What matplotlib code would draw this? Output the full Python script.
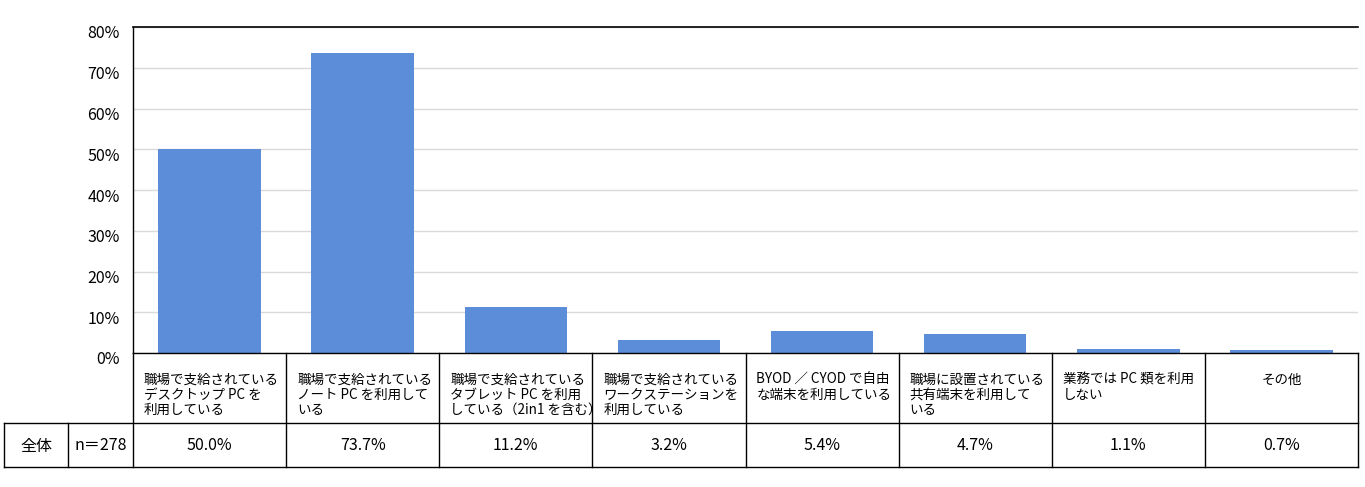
import matplotlib.pyplot as plt
import matplotlib.transforms as mtransforms
import numpy as np

plt.rcParams['font.family'] = ['Noto Sans CJK JP', 'DejaVu Sans']

# Data
categories = [
    "職場で支給されている\nデスクトップ PC を\n利用している",
    "職場で支給されている\nノート PC を利用して\nいる",
    "職場で支給されている\nタブレット PC を利用\nしている（2in1 を含む）",
    "職場で支給されている\nワークステーションを\n利用している",
    "BYOD ／ CYOD で自由\nな端末を利用している",
    "職場に設置されている\n共有端末を利用して\nいる",
    "業務では PC 類を利用\nしない",
    "その他",
]
values = [50.0, 73.7, 11.2, 3.2, 5.4, 4.7, 1.1, 0.7]
yticks = list(range(0, 81, 10))
row_label = "全体"
n_label = "n＝278"

W, H = 1365, 487
fig = plt.figure(figsize=(W / 100, H / 100), dpi=100)

# pixel geometry
x_left, x_right = 133, 1358
y_top, y_zero = 27, 353
y_row1, y_row2 = 423, 467
x_tab0, x_tab1 = 4, 68

ax = fig.add_axes([x_left / W, 1 - y_zero / H, (x_right - x_left) / W, (y_zero - y_top) / H])
x = np.arange(len(values))
ax.bar(x, values, width=0.67, color="#5B8DD9", zorder=2)
ax.set_xlim(-0.5, len(values) - 0.5)
ax.set_ylim(0, 80)
ax.set_yticks(yticks)
ax.set_yticklabels([])
ax.tick_params(axis="y", length=0)
ax.set_xticks([])
ax.grid(axis="y", color="#D9D9D9", linewidth=1, zorder=0)
for s in ["right", "bottom"]:
    ax.spines[s].set_visible(False)
ax.spines["left"].set_linewidth(1)
ax.spines["top"].set_linewidth(1.2)

# y labels sit a little below their gridlines
lab_tr = mtransforms.offset_copy(ax.get_yaxis_transform(), fig=fig, x=-13, y=-7, units="dots")
for v in yticks:
    ax.text(0, v, f"{v}%", transform=lab_tr, ha="right", va="center", fontsize=11.5)

# table drawn on a full-figure overlay in pixel units
tb = fig.add_axes([0, 0, 1, 1], facecolor="none")
tb.set_xlim(0, W)
tb.set_ylim(H, 0)
tb.axis("off")

col_w = (x_right - x_left) / len(values)
edges = [x_left + i * col_w for i in range(len(values) + 1)]
lc = dict(color="black", linewidth=1)

tb.plot([x_left, x_right], [y_zero, y_zero], **lc)
tb.plot([x_tab0, x_right], [y_row1, y_row1], **lc)
tb.plot([x_tab0, x_right], [y_row2, y_row2], **lc)
for e in edges:
    tb.plot([e, e], [y_zero, y_row2], **lc)
for e in [x_tab0, x_tab1]:
    tb.plot([e, e], [y_row1, y_row2], **lc)

ymid2 = (y_row1 + y_row2) / 2 + 1
tb.text((x_tab0 + x_tab1) / 2, ymid2, row_label, ha="center", va="center", fontsize=11.5)
tb.text((x_tab1 + x_left) / 2, ymid2, n_label, ha="center", va="center", fontsize=11.5)

for i, (lab, v) in enumerate(zip(categories, values)):
    if "\n" in lab:
        tb.text(edges[i] + 11, y_zero + 20, lab, ha="left", va="top",
                fontsize=9.75, linespacing=1.1)
    else:
        tb.text((edges[i] + edges[i + 1]) / 2, y_zero + 20, lab, ha="center",
                va="top", fontsize=9.75)
    tb.text((edges[i] + edges[i + 1]) / 2, ymid2, f"{v:.1f}%", ha="center",
            va="center", fontsize=11.5)

fig.savefig("out.png", dpi=100)
